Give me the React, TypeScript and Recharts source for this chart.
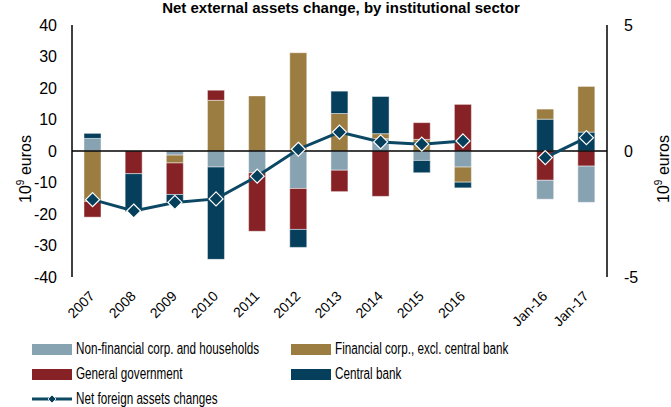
import { ComposedChart, Bar, Line, XAxis, YAxis, ReferenceLine } from "recharts";

/* colours */
const NONFIN = "#87a2b0";
const FIN = "#9b7c41";
const GOV = "#862226";
const CB = "#053f5c";
const NET = "#0c4864";

const FONT = "'Liberation Sans', Arial, sans-serif";

// x categories (the blank one is the gap between annual and monthly data)
const CATEGORIES = ["2007", "2008", "2009", "2010", "2011", "2012", "2013", "2014", "2015", "2016", "", "Jan-16", "Jan-17"];

// annual flows, 10^9 euros, 2007..2016
const NONFIN_ANNUAL = [4.0, 0, -1.3, -5.1, -6.9, -11.9, -6.1, 3.9, -3.0, -5.1];
const FIN_ANNUAL = [-16.0, 0, -2.5, 16.1, 17.5, 31.2, 11.9, 1.6, 3.7, -4.8];
const GOV_ANNUAL = [-5.0, -7.2, -10.0, 3.2, -18.6, -13.0, -6.8, -14.4, 5.3, 14.8];
const CB_ANNUAL = [1.6, -12.0, -2.5, -29.3, 0, -5.7, 7.1, 11.8, -3.9, -1.8];

// monthly flows, Jan-16 and Jan-17 (stacked in reverse order in the source)
const NONFIN_MONTHLY = [-6.0, -11.5];
const FIN_MONTHLY = [3.2, 14.5];
const GOV_MONTHLY = [-9.3, -4.8];
const CB_MONTHLY = [10.1, 6.0];

// net foreign assets changes, right axis
const NET_CHANGES = [-1.93, -2.38, -2.04, -1.9, -1.0, 0.07, 0.75, 0.36, 0.27, 0.4, null, -0.26, 0.53];

const N_ANNUAL = NONFIN_ANNUAL.length;
const MONTH_START = CATEGORIES.length - NONFIN_MONTHLY.length;

const data = CATEGORIES.map((cat, i) => {
  const a = i < N_ANNUAL ? i : -1;
  const m = i >= MONTH_START ? i - MONTH_START : -1;
  return {
    cat,
    nonfin: a >= 0 ? NONFIN_ANNUAL[a] : null,
    fin: a >= 0 ? FIN_ANNUAL[a] : null,
    gov: a >= 0 ? GOV_ANNUAL[a] : null,
    cb: a >= 0 ? CB_ANNUAL[a] : null,
    cbM: m >= 0 ? CB_MONTHLY[m] : null,
    govM: m >= 0 ? GOV_MONTHLY[m] : null,
    finM: m >= 0 ? FIN_MONTHLY[m] : null,
    nonfinM: m >= 0 ? NONFIN_MONTHLY[m] : null,
    net: NET_CHANGES[i],
  };
});

const TICK = { fontSize: 16, fontFamily: FONT, fill: "#000" };

// thin light edge around each segment, as in the source
const BAR_PROPS = {
  yAxisId: "left",
  stackId: "s",
  barSize: 17,
  stroke: "#ffffff",
  strokeOpacity: 0.45,
  strokeWidth: 1,
  isAnimationActive: false,
};

function XTick(props: any) {
  const { x, y, payload } = props;
  const ax = x + 3;
  const ay = y + 20;
  return (
    <text
      x={ax}
      y={ay}
      transform={`rotate(-45 ${ax} ${ay})`}
      textAnchor="end"
      fontSize={14}
      fontFamily={FONT}
      fill="#000"
    >
      {payload.value}
    </text>
  );
}

function Diamond(props: any) {
  const { cx, cy, value } = props;
  if (value == null || cx == null || cy == null) return <g />;
  const r = 7;
  return (
    <polygon
      points={`${cx},${cy - r} ${cx + r},${cy} ${cx},${cy + r} ${cx - r},${cy}`}
      fill={CB}
      stroke="#fff"
      strokeWidth={1.2}
    />
  );
}

// "10^9 euros" rotated, baseline at bx
function unitLabel(bx: number, cy: number) {
  return (
    <text
      x={bx}
      y={cy}
      transform={`rotate(-90 ${bx} ${cy})`}
      textAnchor="middle"
      fontSize={16}
      fontFamily={FONT}
      fill="#000"
    >
      10
      <tspan dy={-7} fontSize={10}>9</tspan>
      <tspan dy={7}> euros</tspan>
    </text>
  );
}

function ChartLegend() {
  const swatch = (color: string) => (
    <span style={{ display: "inline-block", width: 40, height: 11, background: color, marginRight: 4, flex: "none" }} />
  );
  // source legend uses a condensed face
  const label = (text: string) => (
    <span style={{ display: "inline-block", transform: "scaleX(0.73)", transformOrigin: "left center" }}>{text}</span>
  );
  const item = (left: number, top: number, color: string, text: string) => (
    <div style={{ position: "absolute", left, top, display: "flex", alignItems: "center", height: 16, whiteSpace: "nowrap" }}>
      {swatch(color)}
      {label(text)}
    </div>
  );
  return (
    <div style={{ position: "absolute", left: 0, top: 0, fontFamily: FONT, fontSize: 16, color: "#000" }}>
      {item(32, 341, NONFIN, "Non-financial corp. and households")}
      {item(291, 341, FIN, "Financial corp., excl. central bank")}
      {item(32, 366, GOV, "General government")}
      {item(291, 366, CB, "Central bank")}
      <div style={{ position: "absolute", left: 32, top: 391, display: "flex", alignItems: "center", height: 16, whiteSpace: "nowrap" }}>
        <svg width={40} height={12} style={{ marginRight: 4, flex: "none" }}>
          <line x1={0} y1={6} x2={40} y2={6} stroke={NET} strokeWidth={3} />
          <polygon points="20,2 24,6 20,10 16,6" fill={CB} stroke="#fff" strokeWidth={0.8} />
        </svg>
        {label("Net foreign assets changes")}
      </div>
    </div>
  );
}

export default function App() {
  return (
    <div style={{ position: "absolute", left: 0, top: 0, width: 671, height: 407, background: "#fff", overflow: "hidden" }}>
      <div
        style={{
          position: "absolute",
          left: 0,
          top: -1,
          width: 682,
          textAlign: "center",
          fontFamily: FONT,
          fontWeight: "bold",
          fontSize: 15,
          color: "#000",
          whiteSpace: "nowrap",
        }}
      >
        Net external assets change, by institutional sector
      </div>
      <ComposedChart
        width={671}
        height={340}
        data={data}
        stackOffset="sign"
        margin={{ top: 25, right: 0, bottom: 0, left: 0 }}
        style={{ position: "absolute", left: 0, top: 0 }}
      >
        <XAxis
          dataKey="cat"
          interval={0}
          height={63}
          axisLine={false}
          tickLine={false}
          tickSize={0}
          tickMargin={0}
          tick={<XTick />}
        />
        <YAxis
          yAxisId="left"
          domain={[-40, 40]}
          ticks={[-40, -30, -20, -10, 0, 10, 20, 30, 40]}
          width={72}
          tick={TICK}
          tickLine={false}
          tickSize={0}
          tickMargin={15}
          axisLine={{ stroke: "#000", strokeWidth: 1.5 }}
          label={{ content: () => unitLabel(31, 169) }}
        />
        <YAxis
          yAxisId="right"
          orientation="right"
          domain={[-5, 5]}
          ticks={[-5, 0, 5]}
          width={64}
          tick={{ ...TICK, textAnchor: "start" }}
          tickLine={false}
          tickSize={0}
          tickMargin={17}
          axisLine={{ stroke: "#000", strokeWidth: 1.5 }}
          label={{ content: () => unitLabel(669, 169) }}
        />
        {/* annual stack order */}
        <Bar {...BAR_PROPS} dataKey="nonfin" fill={NONFIN} />
        <Bar {...BAR_PROPS} dataKey="fin" fill={FIN} />
        <Bar {...BAR_PROPS} dataKey="gov" fill={GOV} />
        <Bar {...BAR_PROPS} dataKey="cb" fill={CB} />
        {/* monthly stack order (reversed in the source) */}
        <Bar {...BAR_PROPS} dataKey="cbM" fill={CB} />
        <Bar {...BAR_PROPS} dataKey="govM" fill={GOV} />
        <Bar {...BAR_PROPS} dataKey="finM" fill={FIN} />
        <Bar {...BAR_PROPS} dataKey="nonfinM" fill={NONFIN} />
        <ReferenceLine yAxisId="left" y={0} stroke="#000" strokeWidth={1.5} />
        <Line
          yAxisId="right"
          dataKey="net"
          stroke={NET}
          strokeWidth={3}
          connectNulls={false}
          dot={<Diamond />}
          activeDot={false}
          isAnimationActive={false}
        />
      </ComposedChart>
      <ChartLegend />
    </div>
  );
}
